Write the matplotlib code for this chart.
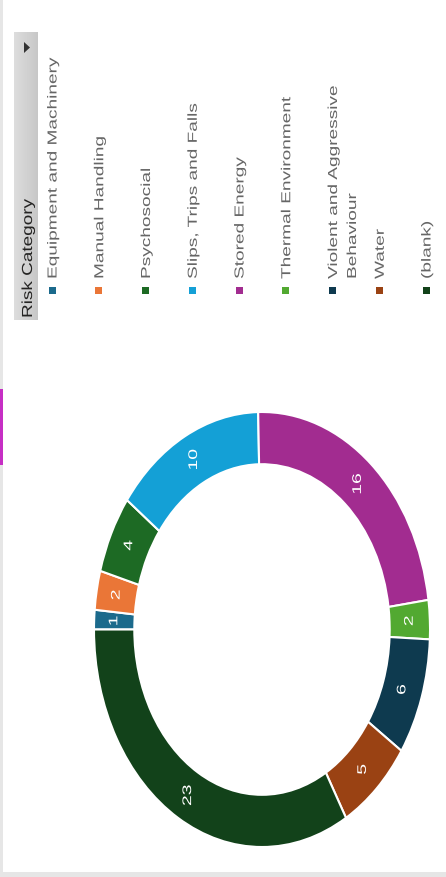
import matplotlib
matplotlib.use('Agg')
import matplotlib.pyplot as plt
import numpy as np
from matplotlib.patheffects import AbstractPathEffect
from matplotlib.transforms import Affine2D
from matplotlib.colors import LinearSegmentedColormap
from matplotlib.patches import Rectangle, Polygon

plt.rcParams['font.family'] = ['Liberation Sans', 'DejaVu Sans']

# dados do gráfico (ordem da legenda / das fatias)
categorias = ['Equipment and Machinery', 'Manual Handling', 'Psychosocial',
              'Slips, Trips and Falls', 'Stored Energy', 'Thermal Environment',
              'Violent and Aggressive\nBehaviour', 'Water', '(blank)']
valores = [1, 2, 4, 10, 16, 2, 6, 5, 23]
cores = ['#1b6a8c', '#ea7637', '#1d6a24', '#14a0d6', '#a22c90',
         '#52a931', '#0e3a4f', '#9a4213', '#12421a']
titulo_legenda = 'Risk Category'


# texto esticado na direção vertical (a captura original está esticada)
class Esticar(AbstractPathEffect):
    def __init__(self, fator, centro=False):
        super().__init__()
        self.fator = fator
        self.centro = centro

    def draw_path(self, renderer, gc, tpath, affine, rgbFace=None):
        if self.centro:
            ext = tpath.get_extents(affine)
            y0 = (ext.y0 + ext.y1) / 2
        else:
            y0 = affine.get_matrix()[1, 2]
        estica = Affine2D().translate(0, -y0).scale(1, self.fator).translate(0, y0)
        renderer.draw_path(gc, tpath, affine + estica, rgbFace)


fig = plt.figure(figsize=(4.46, 8.77), dpi=100)
fig.patch.set_facecolor('white')

# eixo em pixels para moldura e legenda
ax0 = fig.add_axes([0, 0, 1, 1])
ax0.set_xlim(0, 446)
ax0.set_ylim(877, 0)
ax0.axis('off')

ax0.add_patch(Rectangle((0, 0), 2.5, 877, color='#e6e6e6', lw=0))
ax0.add_patch(Rectangle((0, 871.5), 446, 6, color='#e6e6e6', lw=0))
ax0.add_patch(Rectangle((0, 389), 2.5, 76, color='#c62ec4', lw=0))

# cabeçalho da legenda
grad = LinearSegmentedColormap.from_list('grad', ['#dedede', '#c7c7c7'])
ax0.imshow(np.linspace(0, 1, 50)[None, :], extent=(14, 38, 320, 32),
           cmap=grad, aspect='auto', zorder=1)
ax0.add_patch(Polygon([(24, 42), (24, 53), (30, 47.5)], color='#333333', lw=0, zorder=2))
ax0.text(32, 318, titulo_legenda, rotation=90, rotation_mode='anchor',
         ha='left', va='baseline', fontsize=10.5, color='#252423', zorder=3,
         path_effects=[Esticar(1.3)])
ax0.set_xlim(0, 446)
ax0.set_ylim(877, 0)

# itens da legenda
x_itens = 52 + 46.75 * np.arange(len(categorias))
for xi, cat, cor in zip(x_itens, categorias, cores):
    ax0.add_patch(Rectangle((xi - 3.5, 286.5), 7, 7, color=cor, lw=0))
    for k, linha in enumerate(cat.split('\n')):
        ax0.text(xi + 4.5 + 19 * k, 279, linha, rotation=90, rotation_mode='anchor',
                 ha='left', va='baseline', fontsize=9.4, color='#666666',
                 path_effects=[Esticar(1.46)])

# rosca
ax1 = fig.add_axes([94 / 446, 1 - 847 / 877, 336 / 446, 435 / 877])
fatias, _ = ax1.pie(valores, colors=cores, startangle=180, counterclock=False,
                    radius=1, wedgeprops=dict(width=0.24, edgecolor='white', linewidth=1.5))
ax1.set_xlim(-1, 1)
ax1.set_ylim(-1, 1)
ax1.set_aspect('auto')

for w, v in zip(fatias, valores):
    ang = np.deg2rad((w.theta1 + w.theta2) / 2)
    ax1.text(0.88 * np.cos(ang), 0.88 * np.sin(ang), str(v), ha='center', va='center',
             rotation=90, color='white', fontsize=9,
             path_effects=[Esticar(1.55, centro=True)])

fig.savefig('out.png', dpi=100)
